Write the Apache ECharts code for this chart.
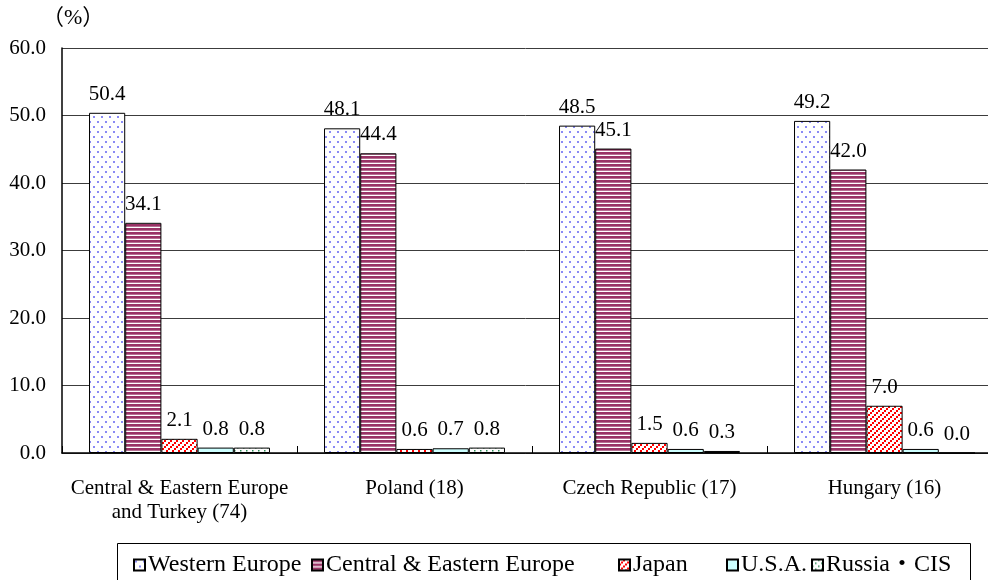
<!DOCTYPE html>
<html>
<head>
<meta charset="utf-8">
<script src="https://cdn.jsdelivr.net/npm/echarts@6/dist/echarts.min.js"></script>
<style>
  html, body { margin: 0; padding: 0; background: #fff; }
  #chart { width: 988px; height: 580px; }
</style>
</head>
<body>
<div id="chart"></div>
<script>
// Share of investing firms by region of origin, per host country (%)
const categories = ['Central & Eastern Europe\nand Turkey (74)', 'Poland (18)', 'Czech Republic (17)', 'Hungary (16)'];
const seriesNames = ['Western Europe', 'Central & Eastern Europe', 'Japan', 'U.S.A.', 'Russia・CIS'];
const westernEurope = [50.4, 48.1, 48.5, 49.2];
const centralEasternEurope = [34.1, 44.4, 45.1, 42.0];
const japan = [2.1, 0.6, 1.5, 7.0];
const usa = [0.8, 0.7, 0.6, 0.6];
const russiaCis = [0.8, 0.8, 0.3, 0.0];
const yMin = 0, yMax = 60, yStep = 10;

const SERIF = "'Liberation Serif', 'Noto Sans CJK JP', serif";

// small repeating fill tiles
function tile(w, h, draw) {
  const c = document.createElement('canvas');
  c.width = w; c.height = h;
  const g = c.getContext('2d');
  g.fillStyle = '#ffffff';
  g.fillRect(0, 0, w, h);
  draw(g);
  return { image: c, repeat: 'repeat' };
}
const fillDots = tile(8, 10, g => {
  g.fillStyle = '#8a8af5';
  g.fillRect(1, 1, 2, 2);
  g.fillRect(5, 6, 2, 2);
});
const fillStripes = tile(4, 4, g => {
  g.fillStyle = '#993366';
  g.fillRect(0, 0, 4, 2.7);
});
const fillDiagRed = tile(6, 6, g => {
  g.fillStyle = '#ff0000';
  g.fillRect(4, 0, 2, 2);
  g.fillRect(2, 2, 2, 2);
  g.fillRect(0, 4, 2, 2);
});
const fillCyan = '#ccffff';
const fillDiagGreen = tile(6, 6, g => {
  g.fillStyle = '#2e8b57';
  g.fillRect(0, 0, 1.5, 1.5);
  g.fillRect(3, 3, 1.5, 1.5);
});

const seriesValues = [westernEurope, centralEasternEurope, japan, usa, russiaCis];
const seriesFills = [fillDots, fillStripes, fillDiagRed, fillCyan, fillDiagGreen];

const series = seriesNames.map((name, i) => ({
  name,
  type: 'bar',
  data: seriesValues[i],
  barGap: '0%',
  barCategoryGap: '23%',
  itemStyle: { color: seriesFills[i], borderColor: '#000', borderWidth: 1 },
  emphasis: { disabled: true },
  label: {
    show: true,
    position: 'top',
    distance: 8,
    fontFamily: SERIF,
    fontSize: 21,
    color: '#000',
    formatter: p => p.value.toFixed(1)
  }
}));

// legend items placed along one framed row
const legendLefts = [133, 311, 618, 726, 811];
const legends = seriesNames.map((name, i) => ({
  data: [name],
  left: legendLefts[i],
  top: 553,
  padding: 0,
  itemWidth: 11,
  itemHeight: 11,
  itemGap: 0,
  selectedMode: false,
  icon: 'rect',
  textStyle: { fontFamily: SERIF, fontSize: 24, color: '#000', padding: [0, 0, 0, -2] }
}));

const chart = echarts.init(document.getElementById('chart'), null, { renderer: 'canvas' });
chart.setOption({
  animation: false,
  backgroundColor: '#fff',
  grid: { left: 62, top: 48, width: 940, height: 405, containLabel: false, outerBoundsMode: 'none' },
  legend: legends,
  graphic: [
    { type: 'rect', shape: { x: 117.5, y: 543.5, width: 853, height: 50 },
      style: { fill: 'none', stroke: '#000', lineWidth: 1 }, silent: true },
    { type: 'text', left: 42, top: 7,
      style: { text: '（%）', font: "22px 'Liberation Serif', 'Noto Sans CJK JP', serif", fill: '#000' } }
  ],
  xAxis: {
    type: 'category',
    data: categories,
    axisLine: { show: true, lineStyle: { color: '#000', width: 1.5 } },
    axisTick: { show: true, inside: true, length: 7, lineStyle: { color: '#000' } },
    axisLabel: {
      interval: 0,
      margin: 23,
      fontFamily: SERIF,
      fontSize: 21,
      lineHeight: 24,
      color: '#000'
    },
    splitLine: { show: false }
  },
  yAxis: {
    type: 'value',
    min: yMin,
    max: yMax,
    interval: yStep,
    axisLine: { show: true, lineStyle: { color: '#000', width: 1.5 } },
    axisTick: { show: false },
    axisLabel: {
      margin: 16,
      fontFamily: SERIF,
      fontSize: 21,
      color: '#000',
      formatter: v => v.toFixed(1)
    },
    splitLine: { show: true, lineStyle: { color: '#3c3c3c', width: 1 } }
  },
  tooltip: { show: false },
  series
});
</script>
</body>
</html>
